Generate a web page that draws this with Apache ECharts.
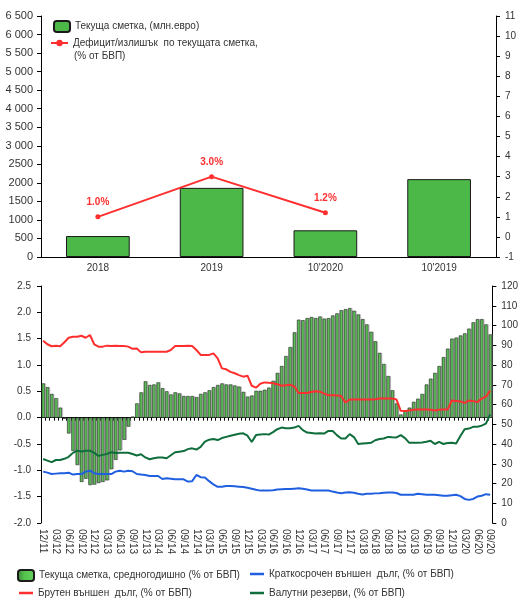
<!DOCTYPE html>
<html>
<head>
<meta charset="utf-8">
<script src="https://cdn.jsdelivr.net/npm/echarts@6/dist/echarts.min.js"></script>
<style>
  html, body { margin: 0; padding: 0; background: #fff; }
  #main { width: 521px; height: 598px; }
</style>
</head>
<body>
<div id="main"></div>
<script>
// горна графика
const yearCats = ['2018', '2019', "10'2020", "10'2019"]
const currentAccount = [565, 1865, 720, 2100]         // млн. евро
const currentAccountPct = [1.0, 3.0, 1.2, null]      // % от БВП

// долна графика, месечни данни 12/11 - 09/20
const months = [
  '12/11',
  '01/12', '02/12', '03/12', '04/12', '05/12', '06/12', '07/12', '08/12', '09/12', '10/12', '11/12', '12/12',
  '01/13', '02/13', '03/13', '04/13', '05/13', '06/13', '07/13', '08/13', '09/13', '10/13', '11/13', '12/13',
  '01/14', '02/14', '03/14', '04/14', '05/14', '06/14', '07/14', '08/14', '09/14', '10/14', '11/14', '12/14',
  '01/15', '02/15', '03/15', '04/15', '05/15', '06/15', '07/15', '08/15', '09/15', '10/15', '11/15', '12/15',
  '01/16', '02/16', '03/16', '04/16', '05/16', '06/16', '07/16', '08/16', '09/16', '10/16', '11/16', '12/16',
  '01/17', '02/17', '03/17', '04/17', '05/17', '06/17', '07/17', '08/17', '09/17', '10/17', '11/17', '12/17',
  '01/18', '02/18', '03/18', '04/18', '05/18', '06/18', '07/18', '08/18', '09/18', '10/18', '11/18', '12/18',
  '01/19', '02/19', '03/19', '04/19', '05/19', '06/19', '07/19', '08/19', '09/19', '10/19', '11/19', '12/19',
  '01/20', '02/20', '03/20', '04/20', '05/20', '06/20', '07/20', '08/20', '09/20'
]

const caAverage = [
  0.65, 0.58, 0.45, 0.37, 0.19, -0.02, -0.30, -0.63, -0.90, -1.22,
  -1.16, -1.28, -1.27, -1.24, -1.22, -1.19, -0.98, -0.80, -0.62, -0.42,
  -0.17, 0.02, 0.27, 0.48, 0.69, 0.62, 0.63, 0.67, 0.56, 0.50,
  0.44, 0.48, 0.46, 0.41, 0.41, 0.41, 0.39, 0.45, 0.48, 0.52,
  0.58, 0.62, 0.65, 0.63, 0.63, 0.61, 0.59, 0.49, 0.40, 0.42,
  0.51, 0.51, 0.53, 0.57, 0.70, 0.85, 0.98, 1.17, 1.34, 1.62,
  1.86, 1.85, 1.89, 1.91, 1.89, 1.92, 1.88, 1.89, 1.94, 1.98,
  2.04, 2.06, 2.08, 2.03, 1.96, 1.87, 1.77, 1.63, 1.45, 1.23,
  1.02, 0.79, 0.52, 0.27, 0.06, 0.13, 0.19, 0.30, 0.36, 0.45,
  0.63, 0.74, 0.85, 0.98, 1.15, 1.31, 1.50, 1.52, 1.56, 1.60,
  1.69, 1.81, 1.87, 1.87, 1.77, 1.58
]

const grossDebt = [
  92.3, 90.5, 89.5, 89.8, 89.5, 91.5, 93.8, 94.3, 94.3, 94.8,
  93.8, 95.2, 90.5, 89.3, 89.3, 89.8, 89.6, 89.8, 89.6, 89.6,
  89.3, 88.2, 88.4, 86.4, 86.7, 86.7, 86.7, 86.7, 86.7, 86.7,
  87.6, 89.6, 89.6, 89.6, 89.8, 89.6, 87.6, 85.1, 85.1, 85.1,
  85.9, 83.4, 78.3, 77.8, 76.5, 75.8, 74.9, 74.1, 74.6, 69.5,
  68.5, 70.5, 71.2, 71.0, 70.8, 70.3, 69.5, 69.8, 70.0, 69.2,
  65.8, 65.8, 65.8, 66.3, 66.7, 66.5, 65.5, 64.7, 64.7, 64.6,
  64.3, 61.0, 62.5, 62.5, 62.5, 62.5, 62.5, 62.5, 62.7, 63.0,
  63.0, 63.0, 63.0, 62.5, 56.8, 56.7, 57.0, 57.3, 57.5, 57.5,
  57.5, 57.3, 57.0, 57.3, 57.5, 57.5, 62.0, 61.8, 61.5, 60.8,
  62.0, 61.7, 61.2, 63.0, 64.0, 67.0
]

const shortTermDebt = [
  26.0, 25.5, 24.8, 25.0, 25.2, 25.2, 25.5, 24.5, 24.8, 24.8,
  26.0, 26.5, 25.2, 24.8, 24.8, 24.8, 24.8, 26.0, 26.5, 26.0,
  26.5, 26.2, 24.8, 24.5, 24.3, 23.8, 23.8, 23.8, 22.3, 22.6,
  22.4, 22.1, 22.1, 22.1, 21.0, 21.2, 24.3, 23.2, 23.1, 21.2,
  19.5, 18.3, 18.4, 18.7, 18.7, 18.6, 18.4, 18.2, 17.8, 17.3,
  16.8, 16.4, 16.4, 16.4, 16.6, 17.0, 17.1, 17.2, 17.2, 17.4,
  17.6, 17.3, 17.0, 16.5, 16.4, 16.5, 16.5, 16.5, 15.9, 15.4,
  15.1, 15.4, 15.6, 15.3, 14.8, 14.4, 14.8, 14.8, 15.0, 15.1,
  15.3, 15.4, 15.4, 15.2, 14.3, 14.3, 14.3, 14.3, 14.8, 14.6,
  14.3, 14.3, 14.3, 14.1, 13.8, 13.8, 14.1, 14.3, 13.6, 12.2,
  11.7, 12.2, 13.4, 13.8, 14.6, 14.3
]

const fxReserves = [
  32.4, 31.6, 30.8, 31.9, 31.9, 32.5, 33.5, 35.5, 36.6, 36.2,
  36.6, 36.6, 35.5, 34.0, 34.5, 35.0, 35.8, 35.4, 35.6, 35.6,
  35.6, 34.9, 34.2, 34.8, 33.2, 32.3, 32.8, 33.2, 33.2, 32.8,
  34.3, 35.8, 36.1, 36.4, 37.4, 37.8, 37.2, 38.5, 41.2, 42.2,
  42.5, 42.0, 43.0, 43.6, 44.2, 44.7, 45.2, 45.4, 44.2, 41.0,
  44.5, 44.8, 45.0, 44.8, 46.0, 47.5, 48.3, 48.0, 48.0, 48.3,
  49.2, 47.0, 45.8, 45.6, 45.3, 45.5, 45.3, 46.6, 46.6, 44.5,
  42.8, 42.8, 45.0, 43.5, 40.0, 40.2, 40.4, 40.6, 41.9, 42.5,
  42.8, 43.6, 43.4, 43.3, 44.5, 43.0, 40.6, 40.6, 40.6, 40.8,
  41.1, 41.6, 40.0, 41.1, 40.0, 40.5, 40.6, 40.3, 44.0, 47.5,
  47.8, 48.7, 48.7, 49.3, 50.3, 55.0
]

const FONT = '"Liberation Sans", Arial, sans-serif'
const TXT = '#333'
const RED = '#ff2f2f'
const BLUE = '#1f5fe0'
const DKGREEN = '#0f6e3b'

const barGradient = {
  type: 'linear', x: 0, y: 0, x2: 1, y2: 0,
  colorStops: [
    { offset: 0, color: '#3f7f3c' },
    { offset: 0.4, color: '#52c24c' },
    { offset: 1, color: '#66d65e' }
  ]
}

const axisLine = { show: true, lineStyle: { color: '#000', width: 1 } }
const axisTick = { show: true, length: 4, lineStyle: { color: '#000' } }
const legendText = { fontSize: 10, color: TXT, fontFamily: FONT }

const fmtThousands = v => v >= 3000 ? String(v).replace(/(\d)(\d{3})$/, '$1 $2') : String(v)

// легенда само с линия (без маркер)
const lineLegend = (name, left, top) => ({
  data: [{ name: name, icon: 'rect' }],
  left: left, top: top, padding: 0,
  itemWidth: 14, itemHeight: 2.5,
  textStyle: legendText
})

const chart = echarts.init(document.getElementById('main'))

chart.setOption({
  animation: false,
  textStyle: { fontFamily: FONT },
  grid: [
    { left: 41, right: 25, top: 16, bottom: 341 },
    { left: 41, right: 26, top: 286, bottom: 75 }
  ],
  legend: [
    {
      data: ['Текуща сметка, (млн.евро)'],
      left: 53, top: 20, padding: 0,
      itemWidth: 16, itemHeight: 11,
      textStyle: legendText
    },
    {
      data: ['Дефицит/излишък  по текущата сметка,'],
      left: 50, top: 38, padding: 0,
      itemWidth: 17, itemHeight: 8,
      textStyle: legendText
    },
    {
      data: ['Текуща сметка, средногодишно (% от БВП)'],
      left: 17, top: 569, padding: 0,
      itemWidth: 16, itemHeight: 11,
      textStyle: legendText
    },
    lineLegend('Брутен външен  дълг, (% от БВП)', 19, 588),
    lineLegend('Краткосрочен външен  дълг, (% от БВП)', 250, 569),
    lineLegend('Валутни резерви, (% от БВП)', 250, 588)
  ],
  graphic: [
    {
      type: 'text', left: 74, top: 51,
      style: { text: '(% от БВП)', fontSize: 10, fill: TXT, fontFamily: FONT }
    }
  ],
  xAxis: [
    {
      type: 'category', gridIndex: 0, data: yearCats,
      axisLine: axisLine, axisTick: { show: false },
      axisLabel: { fontSize: 10, color: TXT, margin: 6 }
    },
    {
      type: 'category', gridIndex: 1, data: months, position: 'bottom',
      axisLine: { show: false, onZero: false }, axisTick: { show: false },
      axisLabel: { interval: 2, rotate: -90, fontSize: 10, color: TXT, margin: 6 }
    },
    {
      type: 'category', gridIndex: 1, data: months, position: 'bottom',
      axisLine: { show: true, onZero: true, lineStyle: { color: '#000', width: 1 } },
      axisTick: { show: true, length: 3, interval: 0, lineStyle: { color: '#000' } },
      axisLabel: { show: false }
    }
  ],
  yAxis: [
    {
      type: 'value', gridIndex: 0, min: 0, max: 6500, interval: 500,
      axisLine: axisLine, axisTick: axisTick, splitLine: { show: false },
      axisLabel: { fontSize: 11, color: TXT, margin: 8, formatter: fmtThousands }
    },
    {
      type: 'value', gridIndex: 0, min: -1, max: 11, interval: 1, position: 'right',
      axisLine: axisLine, axisTick: axisTick, splitLine: { show: false },
      axisLabel: { fontSize: 10, color: TXT, margin: 9 }
    },
    {
      type: 'value', gridIndex: 1, min: -2, max: 2.5, interval: 0.5,
      axisLine: { show: true, onZero: false, lineStyle: { color: '#000' } },
      axisTick: axisTick, splitLine: { show: false },
      axisLabel: { fontSize: 10, color: TXT, margin: 10, formatter: v => v.toFixed(1) }
    },
    {
      type: 'value', gridIndex: 1, min: 0, max: 120, interval: 10, position: 'right',
      axisLine: { show: true, onZero: false, lineStyle: { color: '#000' } },
      axisTick: axisTick, splitLine: { show: false },
      axisLabel: { fontSize: 10, color: TXT, margin: 9 }
    }
  ],
  series: [
    {
      name: 'Текуща сметка, (млн.евро)',
      type: 'bar', xAxisIndex: 0, yAxisIndex: 0,
      data: currentAccount, barWidth: '56%',
      itemStyle: { color: '#4cb848', borderColor: '#1a1a1a', borderWidth: 1 }
    },
    {
      name: 'Дефицит/излишък  по текущата сметка,',
      type: 'line', xAxisIndex: 0, yAxisIndex: 1,
      data: currentAccountPct,
      symbol: 'circle', symbolSize: 5,
      lineStyle: { color: RED, width: 2 },
      itemStyle: { color: RED },
      label: {
        show: true, position: 'top', distance: 7,
        color: RED, fontWeight: 'bold', fontSize: 10,
        formatter: p => p.value == null ? '' : p.value.toFixed(1) + '%'
      }
    },
    {
      name: 'Текуща сметка, средногодишно (% от БВП)',
      type: 'bar', xAxisIndex: 1, yAxisIndex: 2,
      data: caAverage, barCategoryGap: '25%',
      itemStyle: {
        color: barGradient, borderColor: '#1c1c1c', borderWidth: 0.5,
        shadowColor: 'rgba(130,130,130,0.5)', shadowBlur: 0.5, shadowOffsetX: 1.2, shadowOffsetY: 0
      }
    },
    {
      name: 'Брутен външен  дълг, (% от БВП)',
      type: 'line', xAxisIndex: 1, yAxisIndex: 3,
      data: grossDebt, symbol: 'none',
      lineStyle: { color: RED, width: 2 }, itemStyle: { color: RED }
    },
    {
      name: 'Краткосрочен външен  дълг, (% от БВП)',
      type: 'line', xAxisIndex: 1, yAxisIndex: 3,
      data: shortTermDebt, symbol: 'none',
      lineStyle: { color: BLUE, width: 2 }, itemStyle: { color: BLUE }
    },
    {
      name: 'Валутни резерви, (% от БВП)',
      type: 'line', xAxisIndex: 1, yAxisIndex: 3,
      data: fxReserves, symbol: 'none',
      lineStyle: { color: DKGREEN, width: 2 }, itemStyle: { color: DKGREEN }
    }
  ]
})
</script>
</body>
</html>
